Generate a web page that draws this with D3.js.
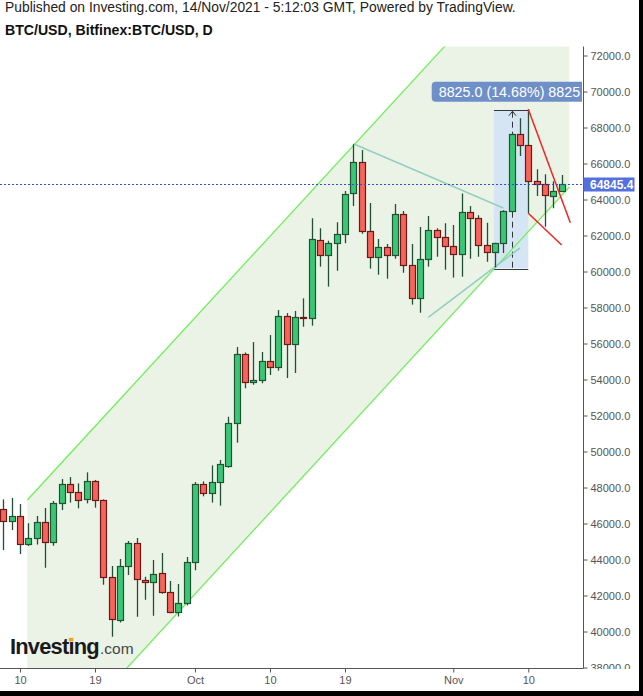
<!DOCTYPE html>
<html><head><meta charset="utf-8">
<script src="https://cdn.jsdelivr.net/npm/d3@7"></script>
<style>html,body{margin:0;padding:0;background:#fff;overflow:hidden}svg{display:block;font-family:"Liberation Sans",Arial,sans-serif}</style>
</head><body><svg id="c" width="643" height="696"></svg>
<script>
// ---------- DATA ----------
const dates = ["2021-09-08","2021-09-09","2021-09-10","2021-09-11","2021-09-12","2021-09-13","2021-09-14","2021-09-15","2021-09-16","2021-09-17","2021-09-18","2021-09-19","2021-09-20","2021-09-21","2021-09-22","2021-09-23","2021-09-24","2021-09-25","2021-09-26","2021-09-27","2021-09-28","2021-09-29","2021-09-30",
"2021-10-01","2021-10-02","2021-10-03","2021-10-04","2021-10-05","2021-10-06","2021-10-07","2021-10-08","2021-10-09","2021-10-10","2021-10-11","2021-10-12","2021-10-13","2021-10-14","2021-10-15","2021-10-16","2021-10-17","2021-10-18","2021-10-19","2021-10-20","2021-10-21","2021-10-22","2021-10-23","2021-10-24","2021-10-25","2021-10-26","2021-10-27","2021-10-28","2021-10-29","2021-10-30","2021-10-31",
"2021-11-01","2021-11-02","2021-11-03","2021-11-04","2021-11-05","2021-11-06","2021-11-07","2021-11-08","2021-11-09","2021-11-10","2021-11-11","2021-11-12","2021-11-13","2021-11-14"];
const opens = [46790,46120,46420,44840,45180,46070,44960,47120,48180,47770,47340,48340,47290,43010,40620,43620,44900,42840,42730,43230,42180,41070,41570,
43840,48180,47680,48290,49210,51570,55420,53840,53960,55030,54710,57530,55990,57480,57400,61730,60900,61570,62070,64340,66070,62230,60790,61340,60900,63180,60340,58510,60680,62290,61900,
61400,60960,63290,62960,61460,61070,61570,63340,67640,67010,65010,64840,64180,64460];
const highs = [47340,47420,47080,46010,46420,46860,47250,48470,48580,48230,48840,48420,47340,43640,44030,45030,45190,43040,43970,44360,42810,42640,44140,
48300,48340,49230,49530,51930,55810,55500,56080,55530,56470,57860,57690,57810,58510,62960,62400,61710,62730,64470,67070,66750,63810,61810,61530,63750,63360,61530,62470,63080,62400,62680,
62580,64340,63640,63120,62710,61600,63400,67700,68510,69010,65680,65400,65010,65360];
const lows = [44530,45640,44310,44750,44840,43540,44770,46750,47160,46840,47120,46880,42600,39710,40500,43140,40820,41770,40880,42100,41010,40840,41450,
43400,47510,47160,46990,49100,50490,53510,53710,53790,54250,54490,54080,54360,56930,56990,60270,59160,60040,61570,63640,62100,60160,59820,59600,60710,59930,58160,57710,60270,60820,60100,
59660,59710,60710,60820,60540,60230,61030,63300,66420,63230,64200,62490,63510,64450];
const closes = [46120,46420,44840,45180,46070,44960,47120,48180,47770,47290,48340,47290,43010,40680,43620,44900,42900,42730,43180,42180,41070,41570,43840,
48180,47680,48290,49310,51580,55420,53840,53970,55030,54710,57530,55990,57470,57400,61790,60900,61570,62070,64290,66070,62230,60790,61340,60900,63180,60340,58510,60680,62290,61900,61400,
60960,63290,62960,61460,61070,61570,63340,67640,67010,65010,64860,64230,64460,64845.4];

const yTicks = [38000,40000,42000,44000,46000,48000,50000,52000,54000,56000,58000,60000,62000,64000,66000,68000,70000,72000];
const xTickDates = ["2021-09-10","2021-09-19","2021-10-01","2021-10-10","2021-10-19","2021-11-01","2021-11-10"];
const xTickLabels = ["10","19","Oct","10","19","Nov","10"];

const lastPrice = 64845.4;
// parallel channel (anchor dates, upper & lower prices)
const channelDates = ["2021-09-10T21:00:00Z","2021-11-14T22:00:00Z"];
const channelUpper = [47306, 80039];
const channelLower = [31956, 64689];
// trend lines
const tealUpperDates = ["2021-10-20T00:00:00Z","2021-11-07T00:00:00Z"];
const tealUpperPrices = [67100, 63530];
const tealLowerDates = ["2021-10-29T00:00:00Z","2021-11-09T00:00:00Z"];
const tealLowerPrices = [57456, 61306];
const redUpperDates = ["2021-11-10T00:00:00Z","2021-11-15T01:00:00Z"];
const redUpperPrices = [69011, 62711];
const redLowerDates = ["2021-11-10T00:00:00Z","2021-11-14T00:00:00Z"];
const redLowerPrices = [63233, 61472];
// date & price range measurement
const rangeDates = ["2021-11-05T21:00:00Z","2021-11-10T00:00:00Z"];
const rangeMidDate = "2021-11-08T00:00:00Z";
const rangePrices = [60165, 68990];
const rangeLabel = "8825.0 (14.68%) 8825";

// ---------- CHART ----------
const svg = d3.select("#c");
const W = 643, H = 696;
const plotL = 0, plotR = 583.5, plotT = 46.5, plotB = 668.5;
const x = d3.scaleUtc().domain([new Date("2021-09-10T00:00:00Z"), new Date("2021-11-10T00:00:00Z")]).range([20, 528.3]);
const y = d3.scaleLinear().domain([38000, 72000]).range([667.5, 55.5]);
const D = s => new Date(s.length === 10 ? s + "T00:00:00Z" : s);

svg.append("rect").attr("width", W).attr("height", H).attr("fill", "#fff");
const defs = svg.append("defs");
defs.append("clipPath").attr("id", "plotClip").append("rect")
  .attr("x", plotL).attr("y", plotT).attr("width", plotR - plotL).attr("height", plotB - plotT);
defs.append("clipPath").attr("id", "labClip").append("rect")
  .attr("x", plotL).attr("y", plotT).attr("width", 582 - plotL).attr("height", plotB - plotT);
defs.append("clipPath").attr("id", "axisClip").append("rect")
  .attr("x", plotR).attr("y", 40).attr("width", 60).attr("height", plotB + 0.5 - 40);

const pg = svg.append("g").attr("clip-path", "url(#plotClip)");

// channel fill
const cx0 = x(D(channelDates[0])), cx1 = x(D(channelDates[1]));
pg.append("polygon")
  .attr("points", [[cx0, y(channelUpper[0])], [cx1, y(channelUpper[1])], [cx1, y(channelLower[1])], [cx0, y(channelLower[0])]].map(p => p.join(",")).join(" "))
  .attr("fill", "#ebf3e7");

// measurement box fill
const rx0 = x(D(rangeDates[0])), rx1 = x(D(rangeDates[1]));
const ry0 = y(rangePrices[1]), ry1 = y(rangePrices[0]);
pg.append("rect").attr("x", rx0).attr("y", ry0).attr("width", rx1 - rx0).attr("height", ry1 - ry0).attr("fill", "#d6e5f3");
const rmx = Math.round(x(D(rangeMidDate))) + 0.5;
pg.append("line").attr("x1", rmx).attr("x2", rmx).attr("y1", ry0 + 2).attr("y2", ry1)
  .attr("stroke", "#333").attr("stroke-width", 1).attr("stroke-dasharray", "6,4");
pg.append("path").attr("d", `M${rmx - 3.5},${ry0 + 6} L${rmx},${ry0 + 1.5} L${rmx + 3.5},${ry0 + 6}`)
  .attr("fill", "none").attr("stroke", "#333").attr("stroke-width", 1);
[ry0, ry1].forEach(yy => pg.append("line").attr("x1", rx0).attr("x2", rx1).attr("y1", Math.round(yy) + 0.5).attr("y2", Math.round(yy) + 0.5).attr("stroke", "#3a3a3a").attr("stroke-width", 1));

// channel lines
const line2 = (ds, ps) => [[x(D(ds[0])), y(ps[0])], [x(D(ds[1])), y(ps[1])]];
const lg = d3.line();
pg.append("path").attr("d", lg(line2(channelDates, channelUpper))).attr("stroke", "#66f24f").attr("stroke-width", 1.2).attr("fill", "none");
pg.append("path").attr("d", lg(line2(channelDates, channelLower))).attr("stroke", "#66f24f").attr("stroke-width", 1.2).attr("fill", "none");
// teal lines
pg.append("path").attr("d", lg(line2(tealUpperDates, tealUpperPrices))).attr("stroke", "#93cfc0").attr("stroke-width", 1.6).attr("fill", "none");
pg.append("path").attr("d", lg(line2(tealLowerDates, tealLowerPrices))).attr("stroke", "#93cfc0").attr("stroke-width", 1.6).attr("fill", "none");

// candles
const candles = dates.map((d, i) => ({ date: D(d), o: opens[i], h: highs[i], l: lows[i], c: closes[i] }));
const cg = pg.append("g").selectAll("g").data(candles).join("g");
cg.append("line")
  .attr("x1", d => Math.round(x(d.date)) + 0.5).attr("x2", d => Math.round(x(d.date)) + 0.5)
  .attr("y1", d => y(d.h)).attr("y2", d => y(d.l))
  .attr("stroke", "#1f5233").attr("stroke-width", 1.3);
cg.append("rect")
  .attr("x", d => Math.round(x(d.date)) - 2.5).attr("width", 6)
  .attr("y", d => Math.round(y(Math.max(d.o, d.c))) + 0.5)
  .attr("height", d => Math.max(1, Math.round(y(Math.min(d.o, d.c))) - Math.round(y(Math.max(d.o, d.c)))))
  .attr("fill", d => d.c >= d.o ? "#3ac775" : "#f6655a")
  .attr("stroke", d => d.c >= d.o ? "#1e5432" : "#6e1717").attr("stroke-width", 1.2);

// red lines
pg.append("path").attr("d", lg(line2(redUpperDates, redUpperPrices))).attr("stroke", "#f22424").attr("stroke-width", 1.5).attr("fill", "none");
pg.append("path").attr("d", lg(line2(redLowerDates, redLowerPrices))).attr("stroke", "#f22424").attr("stroke-width", 1.5).attr("fill", "none");

// last price line
const ly = Math.round(y(lastPrice)) + 0.5;
pg.append("line").attr("x1", plotL).attr("x2", plotR).attr("y1", ly).attr("y2", ly)
  .attr("stroke", "#2f4fd2").attr("stroke-width", 1).attr("stroke-dasharray", "2,2");

// measurement label
const lab = svg.append("g").attr("clip-path", "url(#labClip)");
const labX = 431.7;
lab.append("rect").attr("x", labX).attr("y", 81.7).attr("width", 175).attr("height", 20).attr("rx", 4).attr("fill", "#6f8fc8");
lab.append("text").attr("x", labX + 7).attr("y", 96.8).attr("font-size", 14.3).attr("fill", "#fff").text(rangeLabel);

// axes
const yAxisWrap = svg.append("g").attr("clip-path", "url(#axisClip)");
const yAxisG = yAxisWrap.append("g").attr("transform", `translate(${plotR},0)`)
  .call(d3.axisRight(y).tickValues(yTicks).tickFormat(d => d.toFixed(1)).tickSize(4).tickPadding(3).tickSizeOuter(0));
yAxisG.select(".domain").remove();
yAxisG.selectAll("line").attr("stroke", "#555");
yAxisG.selectAll("text").attr("fill", "#555").attr("font-size", 11).attr("font-family", '"Liberation Sans",Arial,sans-serif');

const xAxisG = svg.append("g").attr("transform", `translate(0,${plotB})`)
  .call(d3.axisBottom(x).tickValues(xTickDates.map(D)).tickFormat((d, i) => xTickLabels[i]).tickSize(4).tickPadding(4).tickSizeOuter(0));
xAxisG.select(".domain").remove();
xAxisG.selectAll("line").attr("stroke", "#555");
xAxisG.selectAll("text").attr("fill", "#555").attr("font-size", 11).attr("font-family", '"Liberation Sans",Arial,sans-serif');

svg.append("line").attr("x1", plotR).attr("x2", plotR).attr("y1", plotT).attr("y2", plotB).attr("stroke", "#555").attr("stroke-width", 1);
svg.append("line").attr("x1", 0).attr("x2", plotR).attr("y1", plotB).attr("y2", plotB).attr("stroke", "#555").attr("stroke-width", 1);

// last price tag
svg.append("rect").attr("x", plotR).attr("y", ly - 7).attr("width", 51).attr("height", 14).attr("fill", "#5470e0");
svg.append("text").attr("x", 590).attr("y", ly + 4.5).attr("font-size", 12).attr("font-weight", "bold").attr("fill", "#fff").text(lastPrice.toFixed(1));

// header
function fitText(sel, target) {
  const w = sel.node().getComputedTextLength();
  const fs = parseFloat(sel.attr("font-size"));
  sel.attr("font-size", fs * target / w);
}
const h1 = svg.append("text").attr("x", 5).attr("y", 12).attr("font-size", 12).attr("fill", "#222")
  .text("Published on Investing.com, 14/Nov/2021 - 5:12:03 GMT, Powered by TradingView.");
fitText(h1, 511);
const h2 = svg.append("text").attr("x", 5).attr("y", 35).attr("font-size", 12.5).attr("font-weight", "bold").attr("fill", "#111")
  .text("BTC/USD, Bitfinex:BTC/USD, D");
fitText(h2, 208);

// logo
const logo = svg.append("text").attr("x", 10).attr("y", 654).attr("font-size", 22).attr("font-weight", "bold").attr("fill", "#1a1a1a").attr("letter-spacing", -0.8);
logo.append("tspan").text("Invest\u0131ng");
fitText(logo, 89);
const ip = logo.node().getStartPositionOfChar(6), ie = logo.node().getEndPositionOfChar(6);
const fsLogo = parseFloat(logo.attr("font-size"));
svg.append("rect").attr("x", (ip.x + ie.x) / 2 - 2.2).attr("y", 654 - fsLogo * 0.74).attr("width", 4.4).attr("height", 3.6).attr("fill", "#f5a21c");
svg.append("text").attr("x", 100).attr("y", 654).attr("font-size", 15.5).attr("fill", "#444").text(".com");

// frame
svg.append("rect").attr("x", 639).attr("y", 0).attr("width", 4).attr("height", H).attr("fill", "#000");
svg.append("rect").attr("x", 0).attr("y", 691).attr("width", W).attr("height", 5).attr("fill", "#000");
</script></body></html>
